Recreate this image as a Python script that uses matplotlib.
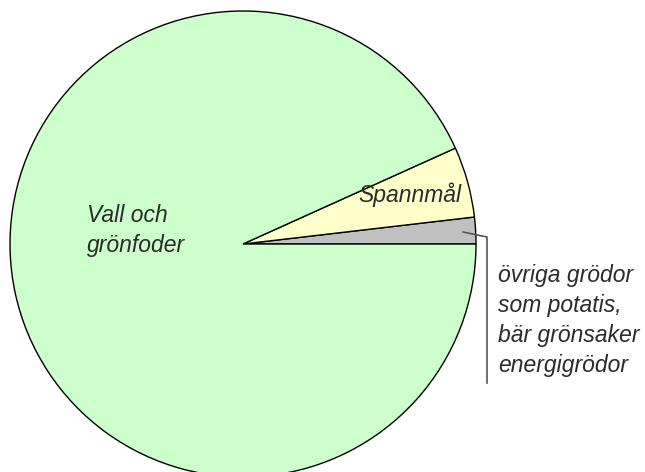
import matplotlib.pyplot as plt

# andel av åkerarealen (grader uppmätta i bilden, omräknat till procent)
groda = ['övriga', 'Spannmål', 'Vall och grönfoder']
andel = [1.85, 4.9, 93.25]
farger = ['#c0c0c0', '#ffffcc', '#ccffcc']

vall_text = ['Vall och', 'grönfoder']
spannmal_text = 'Spannmål'
ovriga_text = ['övriga grödor', 'som potatis,', 'bär grönsaker', 'energigrödor']

W, H = 645, 472
fig = plt.figure(figsize=(W / 100, H / 100), dpi=100)
ax = fig.add_axes([0, 0, 1, 1])
ax.set_xlim(0, W)
ax.set_ylim(0, H)
ax.set_aspect('equal')
ax.axis('off')

# pie in pixel coordinates (y upwards)
cx, cy, r = 243, H - 244, 233
ax.pie(andel, colors=farger, startangle=0, counterclock=True,
       center=(cx, cy), radius=r, frame=True,
       wedgeprops=dict(edgecolor='black', linewidth=1.0))
ax.set_xlim(0, W)
ax.set_ylim(0, H)
ax.axis('off')

font = dict(family='Liberation Sans', style='italic', fontsize=16.5, color='#2b2b2b')

# labels, one line at a time (baseline positions in pixels from top)
for i, t in enumerate(vall_text):
    ax.text(87, H - (222 + 30 * i), t, ha='left', va='baseline', **font)

ax.text(358, H - 202, spannmal_text, ha='left', va='baseline', **font)

for i, t in enumerate(ovriga_text):
    ax.text(498, H - (282 + 30 * i), t, ha='left', va='baseline', **font)

# leader line for the grey slice
ax.plot([463, 487, 487], [H - 232, H - 237, H - 383], color='#555555', lw=1.2,
        solid_joinstyle='miter')

fig.savefig('out.png', dpi=100)
